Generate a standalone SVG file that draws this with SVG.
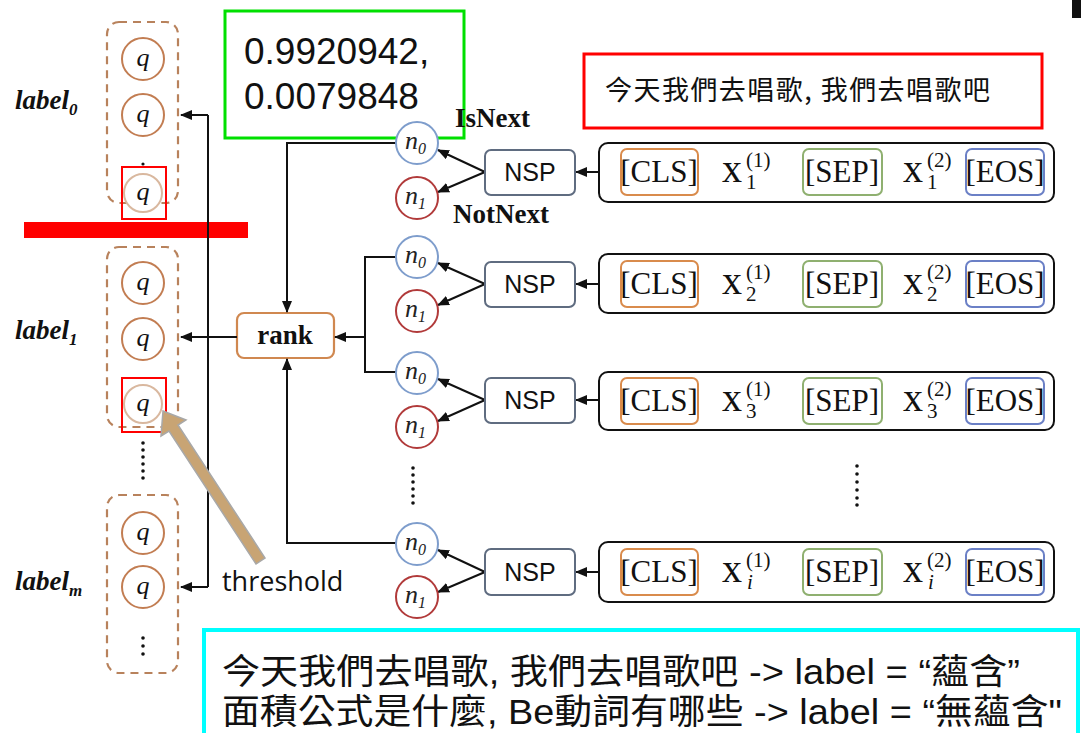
<svg xmlns="http://www.w3.org/2000/svg" width="1081" height="733" viewBox="0 0 1081 733">
<style>
.dash{fill:none;stroke:#b8825c;stroke-width:2.2;stroke-dasharray:8,6}
.q{fill:#fff;stroke:#c27d52;stroke-width:2}
.qf{fill:#fff;stroke:#d9b89f;stroke-width:2}
.qt{font-family:"Liberation Serif",serif;font-style:italic;font-size:26px;fill:#111;text-anchor:middle}
.lab{font-family:"Liberation Serif",serif;font-style:italic;font-weight:bold;font-size:27px;fill:#111}
.labs{font-family:"Liberation Serif",serif;font-style:italic;font-size:17px;fill:#111}
.hl{fill:none;stroke:#ff0000;stroke-width:2}
.conn{fill:none;stroke:#111;stroke-width:2}
.n0{fill:#fff;stroke:#7e9dcc;stroke-width:2}
.n1{fill:#fff;stroke:#b13a3a;stroke-width:2}
.nt{font-family:"Liberation Serif",serif;font-style:italic;font-size:26px;fill:#222}
.ns{font-family:"Liberation Serif",serif;font-size:16px;fill:#222}
.nsp{fill:#fff;stroke:#5f6c80;stroke-width:2}
.nspt{font-family:"Liberation Sans",Arial,sans-serif;font-size:25px;fill:#111;text-anchor:middle}
.row{fill:#fff;stroke:#111;stroke-width:2}
.cls{fill:none;stroke:#d98b4c;stroke-width:2}
.sep{fill:none;stroke:#8fb070;stroke-width:2}
.eos{fill:none;stroke:#6b80c6;stroke-width:2}
.tok{font-family:"Liberation Serif",serif;font-size:31px;fill:#111;text-anchor:middle}
.xv{font-family:"Liberation Serif",serif;font-size:40px;fill:#111}
.xs{font-family:"Liberation Serif",serif;font-size:21px;fill:#111}
.xi{font-family:"Liberation Serif",serif;font-style:italic;font-size:21px;fill:#111}
.bold{font-family:"Liberation Serif",serif;font-weight:bold;font-size:27px;fill:#111}
.dot{fill:#111}
</style>
<defs>
<marker id="ah" markerWidth="12" markerHeight="10" refX="11" refY="5" orient="auto" markerUnits="userSpaceOnUse">
<path d="M0,0 L12,5 L0,10 z" fill="#111"/>
</marker>
</defs>
<rect x="0" y="0" width="1081" height="733" fill="#fff"/>
<rect x="1072" y="0" width="9" height="18" fill="#111"/>

<!-- label groups -->
<g id="label0">
<rect class="dash" x="107" y="22" width="71" height="181" rx="12"/>
<circle class="q" cx="143" cy="59" r="21"/><text class="qt" x="143" y="66">q</text>
<circle class="q" cx="143" cy="115" r="21"/><text class="qt" x="143" y="122">q</text>
<circle class="dot" cx="143" cy="164" r="1.6"/>
<circle class="qf" cx="143" cy="193" r="19"/><text class="qt" x="143" y="200">q</text>
<rect class="hl" x="122" y="167" width="44" height="52"/>
<text class="lab" x="15" y="109">label<tspan class="labs" dy="6">0</tspan></text>
</g>
<g id="label1">
<rect class="dash" x="107" y="247" width="71" height="180" rx="12"/>
<circle class="q" cx="143" cy="283" r="21"/><text class="qt" x="143" y="290">q</text>
<circle class="q" cx="143" cy="339" r="21"/><text class="qt" x="143" y="346">q</text>
<circle class="qf" cx="143" cy="404" r="19"/><text class="qt" x="143" y="411">q</text>
<rect class="hl" x="122" y="378" width="44" height="54"/>
<text class="lab" x="15" y="339">label<tspan class="labs" dy="6">1</tspan></text>
</g>
<g id="dots-left">
<circle class="dot" cx="143" cy="443" r="1.8"/><circle class="dot" cx="143" cy="450" r="1.8"/><circle class="dot" cx="143" cy="457" r="1.8"/><circle class="dot" cx="143" cy="464" r="1.8"/><circle class="dot" cx="143" cy="471" r="1.8"/><circle class="dot" cx="143" cy="478" r="1.8"/>
</g>
<g id="labelm">
<rect class="dash" x="107" y="495" width="71" height="178" rx="12"/>
<circle class="q" cx="143" cy="533" r="21"/><text class="qt" x="143" y="540">q</text>
<circle class="q" cx="143" cy="587" r="21"/><text class="qt" x="143" y="594">q</text>
<circle class="dot" cx="143" cy="638" r="1.8"/><circle class="dot" cx="143" cy="646" r="1.8"/><circle class="dot" cx="143" cy="654" r="1.8"/>
<text class="lab" x="15" y="590">label<tspan class="labs" dy="6">m</tspan></text>
</g>

<rect id="redbar" x="24" y="222" width="224" height="16" fill="#ff0000"/>

<g id="green-box">
<rect x="225" y="11" width="239" height="127" fill="#fff" stroke="#00e000" stroke-width="3"/>
<text x="244" y="64" font-family="Liberation Sans, Arial, sans-serif" font-size="37" fill="#111">0.9920942,</text>
<text x="244" y="109" font-family="Liberation Sans, Arial, sans-serif" font-size="37" fill="#111">0.0079848</text>
</g>

<g id="rank">
<rect x="237" y="313" width="97" height="45" rx="7" fill="#fff" stroke="#d08850" stroke-width="2.2"/>
<text x="285" y="344" font-family="Liberation Serif, serif" font-weight="bold" font-size="27" fill="#111" text-anchor="middle">rank</text>
</g>

<g id="connectors">
<path class="conn" d="M208,115 L208,587"/>
<path class="conn" d="M208,115 L181,115" marker-end="url(#ah)"/>
<path class="conn" d="M208,587 L181,587" marker-end="url(#ah)"/>
<path class="conn" d="M237,337 L181,337" marker-end="url(#ah)"/>
<path class="conn" d="M399,143 L287,143 L287,312" marker-end="url(#ah)"/>
<path class="conn" d="M399,543 L287,543 L287,359" marker-end="url(#ah)"/>
<path class="conn" d="M399,257 L365,257 L365,372 L399,372"/>
<path class="conn" d="M365,337 L335,337" marker-end="url(#ah)"/>
<path class="conn" d="M485,172 L438,150" marker-end="url(#ah)"/>
<path class="conn" d="M485,172 L438,192" marker-end="url(#ah)"/>
<path class="conn" d="M621,172 L576,172" marker-end="url(#ah)"/>
<path class="conn" d="M485,284 L438,263" marker-end="url(#ah)"/>
<path class="conn" d="M485,284 L438,305" marker-end="url(#ah)"/>
<path class="conn" d="M621,284 L576,284" marker-end="url(#ah)"/>
<path class="conn" d="M485,400 L438,379" marker-end="url(#ah)"/>
<path class="conn" d="M485,400 L438,421" marker-end="url(#ah)"/>
<path class="conn" d="M621,400 L576,400" marker-end="url(#ah)"/>
<path class="conn" d="M485,572 L438,550" marker-end="url(#ah)"/>
<path class="conn" d="M485,572 L438,592" marker-end="url(#ah)"/>
<path class="conn" d="M621,572 L576,572" marker-end="url(#ah)"/>
</g>

<!-- group 1 -->
<g id="g1-n0"><circle class="n0" cx="417" cy="143" r="21"/><text class="nt" x="405" y="149">n<tspan class="ns" dy="5">0</tspan></text></g>
<g id="g1-n1"><circle class="n1" cx="417" cy="198" r="21"/><text class="nt" x="405" y="204">n<tspan class="ns" dy="5">1</tspan></text></g>
<text class="bold" x="455" y="127">IsNext</text>
<text class="bold" x="453" y="223">NotNext</text>
<g id="g1-nsp"><rect class="nsp" x="485" y="150" width="90" height="45" rx="6"/><text class="nspt" x="530" y="181">NSP</text></g>
<g id="g1-row">
<rect class="row" x="599" y="143" width="455" height="59" rx="9"/>
<rect class="cls" x="621" y="149" width="77" height="46" rx="6"/><text class="tok" x="659" y="182">[CLS]</text>
<text class="xv" x="722" y="182">x</text><text class="xs" x="746" y="167">(1)</text><text class="xs" x="746" y="189">1</text>
<rect class="sep" x="803" y="149" width="79" height="46" rx="6"/><text class="tok" x="842" y="182">[SEP]</text>
<text class="xv" x="903" y="182">x</text><text class="xs" x="927" y="167">(2)</text><text class="xs" x="927" y="189">1</text>
<rect class="eos" x="966" y="149" width="78" height="46" rx="6"/><text class="tok" x="1005" y="182">[EOS]</text>
</g>

<!-- group 2 -->
<g id="g2-n0"><circle class="n0" cx="417" cy="257" r="21"/><text class="nt" x="405" y="263">n<tspan class="ns" dy="5">0</tspan></text></g>
<g id="g2-n1"><circle class="n1" cx="417" cy="311" r="21"/><text class="nt" x="405" y="317">n<tspan class="ns" dy="5">1</tspan></text></g>
<g id="g2-nsp"><rect class="nsp" x="485" y="262" width="90" height="45" rx="6"/><text class="nspt" x="530" y="293">NSP</text></g>
<g id="g2-row">
<rect class="row" x="599" y="254" width="455" height="59" rx="9"/>
<rect class="cls" x="621" y="261" width="77" height="46" rx="6"/><text class="tok" x="659" y="294">[CLS]</text>
<text class="xv" x="722" y="294">x</text><text class="xs" x="746" y="279">(1)</text><text class="xs" x="746" y="301">2</text>
<rect class="sep" x="803" y="261" width="79" height="46" rx="6"/><text class="tok" x="842" y="294">[SEP]</text>
<text class="xv" x="903" y="294">x</text><text class="xs" x="927" y="279">(2)</text><text class="xs" x="927" y="301">2</text>
<rect class="eos" x="966" y="261" width="78" height="46" rx="6"/><text class="tok" x="1005" y="294">[EOS]</text>
</g>

<!-- group 3 -->
<g id="g3-n0"><circle class="n0" cx="417" cy="373" r="21"/><text class="nt" x="405" y="379">n<tspan class="ns" dy="5">0</tspan></text></g>
<g id="g3-n1"><circle class="n1" cx="417" cy="427" r="21"/><text class="nt" x="405" y="433">n<tspan class="ns" dy="5">1</tspan></text></g>
<g id="g3-nsp"><rect class="nsp" x="485" y="378" width="90" height="45" rx="6"/><text class="nspt" x="530" y="409">NSP</text></g>
<g id="g3-row">
<rect class="row" x="599" y="372" width="455" height="58" rx="9"/>
<rect class="cls" x="621" y="378" width="77" height="46" rx="6"/><text class="tok" x="659" y="411">[CLS]</text>
<text class="xv" x="722" y="411">x</text><text class="xs" x="746" y="396">(1)</text><text class="xs" x="746" y="418">3</text>
<rect class="sep" x="803" y="378" width="79" height="46" rx="6"/><text class="tok" x="842" y="411">[SEP]</text>
<text class="xv" x="903" y="411">x</text><text class="xs" x="927" y="396">(2)</text><text class="xs" x="927" y="418">3</text>
<rect class="eos" x="966" y="378" width="78" height="46" rx="6"/><text class="tok" x="1005" y="411">[EOS]</text>
</g>

<g id="dots-mid">
<circle class="dot" cx="413" cy="468" r="1.8"/><circle class="dot" cx="413" cy="475" r="1.8"/><circle class="dot" cx="413" cy="482" r="1.8"/><circle class="dot" cx="413" cy="489" r="1.8"/><circle class="dot" cx="413" cy="496" r="1.8"/><circle class="dot" cx="413" cy="503" r="1.8"/>
</g>
<g id="dots-right">
<circle class="dot" cx="857" cy="466" r="1.8"/><circle class="dot" cx="857" cy="474" r="1.8"/><circle class="dot" cx="857" cy="482" r="1.8"/><circle class="dot" cx="857" cy="490" r="1.8"/><circle class="dot" cx="857" cy="498" r="1.8"/><circle class="dot" cx="857" cy="505" r="1.8"/>
</g>

<!-- group 4 -->
<g id="g4-n0"><circle class="n0" cx="417" cy="544" r="21"/><text class="nt" x="405" y="550">n<tspan class="ns" dy="5">0</tspan></text></g>
<g id="g4-n1"><circle class="n1" cx="417" cy="597" r="21"/><text class="nt" x="405" y="603">n<tspan class="ns" dy="5">1</tspan></text></g>
<g id="g4-nsp"><rect class="nsp" x="485" y="549" width="90" height="46" rx="6"/><text class="nspt" x="530" y="581">NSP</text></g>
<g id="g4-row">
<rect class="row" x="599" y="542" width="455" height="60" rx="9"/>
<rect class="cls" x="621" y="549" width="77" height="46" rx="6"/><text class="tok" x="659" y="582">[CLS]</text>
<text class="xv" x="722" y="582">x</text><text class="xs" x="746" y="567">(1)</text><text class="xi" x="747" y="589">i</text>
<rect class="sep" x="803" y="549" width="79" height="46" rx="6"/><text class="tok" x="842" y="582">[SEP]</text>
<text class="xv" x="903" y="582">x</text><text class="xs" x="927" y="567">(2)</text><text class="xi" x="928" y="589">i</text>
<rect class="eos" x="966" y="549" width="78" height="46" rx="6"/><text class="tok" x="1005" y="582">[EOS]</text>
</g>

<g id="threshold">
<path d="M163,411 L186,420 L178,425 L265,558 L256,564 L169,431 L161,436 Z" fill="#c8a474" stroke="#a8a8a8" stroke-width="1.5"/>
<text x="222" y="591" font-family="Open Sans, Noto Sans, sans-serif" font-size="27" fill="#111">threshold</text>
</g>

<g id="red-box">
<rect x="584" y="54" width="458" height="74" fill="#fff" stroke="#ff0000" stroke-width="3"/>
<text x="605" y="100" font-family="Noto Sans CJK TC, Noto Sans, sans-serif" font-size="27" fill="#111" textLength="385">今天我們去唱歌, 我們去唱歌吧</text>
</g>

<g id="cyan-box">
<rect x="204" y="630" width="874" height="110" fill="#fff" stroke="#00ffff" stroke-width="4"/>
<text x="222" y="684" font-family="Liberation Sans, Noto Sans CJK TC, sans-serif" font-size="35" fill="#111" textLength="798" lengthAdjust="spacingAndGlyphs">今天我們去唱歌, 我們去唱歌吧  -&gt; label = “蘊含”</text>
<text x="222" y="724" font-family="Liberation Sans, Noto Sans CJK TC, sans-serif" font-size="35" fill="#111" textLength="840" lengthAdjust="spacingAndGlyphs">面積公式是什麼, Be動詞有哪些  -&gt; label = “無蘊含"</text>
</g>
</svg>
